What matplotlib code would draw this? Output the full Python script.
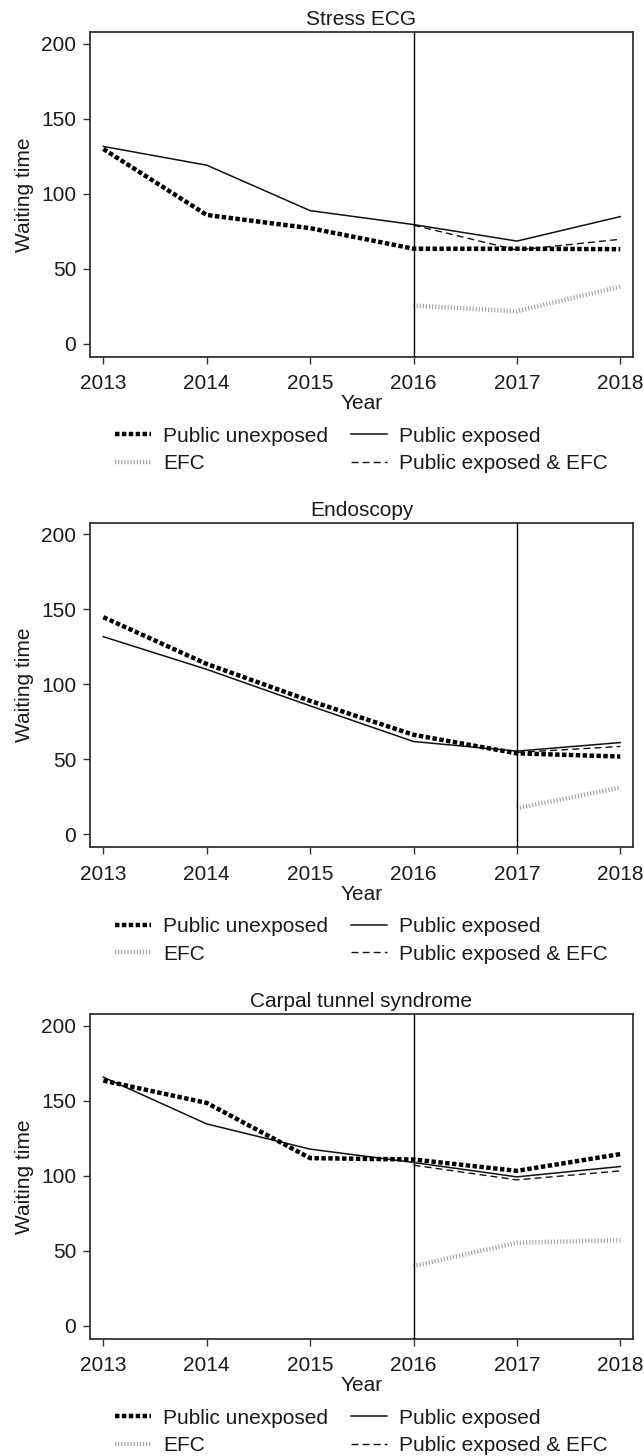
import matplotlib
matplotlib.use("Agg")
import matplotlib.pyplot as plt
from matplotlib.lines import Line2D

plt.rcParams['font.family'] = ['Liberation Sans', 'DejaVu Sans']

years = [2013, 2014, 2015, 2016, 2017, 2018]
titles = ["Stress ECG", "Endoscopy", "Carpal tunnel syndrome"]
cutoff_years = [2016, 2017, 2016]

# Public unexposed
unexposed = [
    [129.8, 85.8, 77.0, 63.3, 63.3, 63.0],
    [144.8, 113.6, 89.0, 66.4, 54.0, 51.9],
    [163.4, 148.5, 111.7, 110.8, 103.2, 114.4],
]
# Public exposed
exposed = [
    [131.5, 119.0, 88.7, 79.4, 68.4, 84.7],
    [131.8, 110.0, 85.7, 61.9, 55.5, 61.2],
    [165.7, 134.5, 117.7, 108.8, 99.2, 106.1],
]
# Public exposed & EFC (from cutoff year on)
exposed_efc = [
    [79.0, 62.4, 69.6],
    [54.6, 58.6],
    [107.0, 97.2, 103.2],
]
# EFC (from cutoff year on)
efc = [
    [25.4, 21.6, 38.0],
    [17.4, 31.2],
    [39.7, 55.3, 57.0],
]

labels = ["Public unexposed", "Public exposed", "EFC", "Public exposed & EFC"]

W, H = 644, 1456
fig = plt.figure(figsize=(W / 100, H / 100), dpi=100)

ax_left, ax_right = 90, 633
tops = [32, 522.7, 1014]
ax_h = 324.7

txt = '#1a1a1a'
spine_c = '#333333'

style_unexp = dict(color='black', lw=3.2, linestyle=(0, (1.0, 0.55)), solid_capstyle='butt', dash_capstyle='butt')
style_exp = dict(color='#111111', lw=1.1, linestyle='-')
style_dash = dict(color='#111111', lw=1.0, linestyle=(0, (5, 3)))
style_efc = dict(color='#a0a0a0', lw=3.2, linestyle=(0, (0.25, 0.45)), dash_capstyle='butt')

for i in range(3):
    top = tops[i]
    ax = fig.add_axes([ax_left / W, 1 - (top + ax_h) / H, (ax_right - ax_left) / W, ax_h / H])
    c = cutoff_years[i]
    sub = [y for y in years if y >= c]
    ax.plot(years, exposed[i], **style_exp, zorder=3)
    ax.plot(sub, exposed_efc[i], **style_dash, zorder=3)
    ax.plot(sub, efc[i], **style_efc, zorder=2)
    ax.plot(years, unexposed[i], **style_unexp, zorder=4)
    ax.axvline(c, color='black', lw=1.0, zorder=5)
    ax.set_xlim(2012.871, 2018.123)
    ax.set_ylim(-8.7, 207.8)
    ax.set_xticks(years)
    ax.set_yticks([0, 50, 100, 150, 200])
    ax.tick_params(direction='out', length=5, width=1.0, colors=spine_c, labelcolor=txt,
                   labelsize=15)
    ax.tick_params(axis='x', pad=7.5)
    ax.tick_params(axis='y', pad=5)
    for s in ax.spines.values():
        s.set_color(spine_c)
        s.set_linewidth(1.3)
    ax.set_title(titles[i], fontsize=15, color=txt, pad=5)
    ax.set_xlabel("Year", fontsize=15, color=txt, labelpad=1)
    ax.set_ylabel("Waiting time", fontsize=15, color=txt, labelpad=5)

    handles = [
        Line2D([], [], **style_unexp),
        Line2D([], [], **style_efc),
        Line2D([], [], **style_exp),
        Line2D([], [], **style_dash),
    ]
    hl = [labels[0], labels[2], labels[1], labels[3]]
    leg = ax.legend(handles, hl, ncol=2, loc='upper center',
                    bbox_to_anchor=(0.5, -0.19), frameon=False, fontsize=15,
                    handlelength=1.7, handletextpad=0.6, columnspacing=1.1,
                    labelspacing=0.4, borderaxespad=0)
    for t in leg.get_texts():
        t.set_color(txt)

fig.savefig("out.png", dpi=100, facecolor='white')
